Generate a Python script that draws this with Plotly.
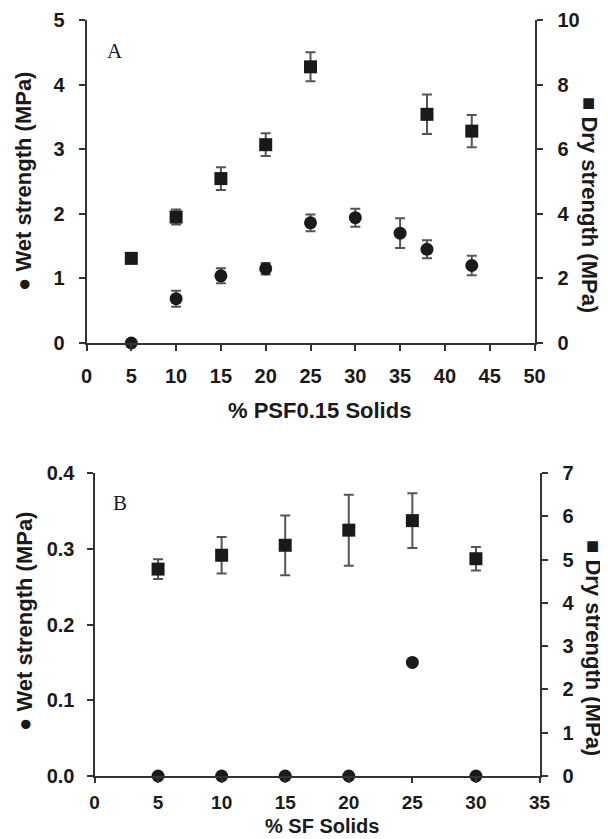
import plotly.graph_objects as go

# ---- Panel A data ----
a_x_wet = [5, 10, 15, 20, 25, 30, 35, 38, 43]
a_wet = [0.0, 0.686, 1.04, 1.15, 1.86, 1.94, 1.70, 1.45, 1.20]
a_wet_err = [0.0, 0.124, 0.116, 0.09, 0.13, 0.14, 0.23, 0.14, 0.15]
a_x_dry = [5, 10, 15, 20, 25, 38, 43]
a_dry = [2.62, 3.90, 5.09, 6.14, 8.55, 7.08, 6.56]
a_dry_err = [0.1, 0.23, 0.35, 0.35, 0.45, 0.61, 0.5]

# ---- Panel B data ----
b_x = [5, 10, 15, 20, 25, 30]
b_wet = [0.0, 0.0, 0.0, 0.0, 0.15, 0.0]
b_dry = [4.78, 5.10, 5.33, 5.68, 5.90, 5.02]
b_dry_err = [0.23, 0.42, 0.69, 0.82, 0.63, 0.27]

# page body has an 8px margin, so the figure starts at (8, 8)
OFF = 8
W, H = 608 - OFF, 839 - OFF
INK = "#1a1a1a"
ERR = "#555555"
FONT = "Liberation Sans, Arial, sans-serif"

def px(x):
    return (x - OFF) / W

def py(y):
    return 1 - (y - OFF) / H

fig = go.Figure()

def err(vals):
    return dict(type="data", array=vals, visible=True, color=ERR, thickness=2, width=5)

# Panel A
fig.add_trace(go.Scatter(x=a_x_dry, y=a_dry, mode="markers", xaxis="x", yaxis="y2",
                         marker=dict(symbol="square", size=13, color=INK),
                         error_y=err(a_dry_err), cliponaxis=False, showlegend=False))
fig.add_trace(go.Scatter(x=a_x_wet, y=a_wet, mode="markers", xaxis="x", yaxis="y",
                         marker=dict(symbol="circle", size=13, color=INK),
                         error_y=err(a_wet_err), cliponaxis=False, showlegend=False))
# Panel B
fig.add_trace(go.Scatter(x=b_x, y=b_dry, mode="markers", xaxis="x2", yaxis="y4",
                         marker=dict(symbol="square", size=13, color=INK),
                         error_y=err(b_dry_err), cliponaxis=False, showlegend=False))
fig.add_trace(go.Scatter(x=b_x, y=b_wet, mode="markers", xaxis="x2", yaxis="y3",
                         marker=dict(symbol="circle", size=13, color=INK),
                         cliponaxis=False, showlegend=False))

def axstyle(size=20, ticklen=6):
    return dict(showline=True, linecolor="#333333", linewidth=2, ticks="outside",
                ticklen=ticklen, tickwidth=2, tickcolor="#333333", showgrid=False,
                zeroline=False, fixedrange=True, automargin=False,
                tickfont=dict(family=FONT, size=size, color=INK, weight="bold"))

a_xdom = [px(86.5), px(534.5)]
a_ydom = [py(343), py(20)]
b_xdom = [px(94.5), px(539.5)]
b_ydom = [py(776), py(473)]

fig.update_layout(
    width=W, height=H,
    margin=dict(l=0, r=0, t=0, b=0, autoexpand=False),
    paper_bgcolor="white", plot_bgcolor="white",
    xaxis=dict(domain=a_xdom, anchor="y", range=[0, 50], tickmode="linear", tick0=0, dtick=5,
               ticklabelstandoff=8, **axstyle()),
    yaxis=dict(domain=a_ydom, anchor="x", range=[0, 5], tickmode="linear", tick0=0, dtick=1,
               ticklabelstandoff=10, **axstyle()),
    yaxis2=dict(overlaying="y", side="right", anchor="x", range=[0, 10], tickmode="linear",
                tick0=0, dtick=2, ticklabelstandoff=11, **axstyle()),
    xaxis2=dict(domain=b_xdom, anchor="y3", range=[0, 35], tickmode="linear", tick0=0, dtick=5,
                ticklabelstandoff=3, **axstyle(size=19, ticklen=5)),
    yaxis3=dict(domain=b_ydom, anchor="x2", range=[0, 0.4], tickmode="linear", tick0=0, dtick=0.1,
                tickformat=".1f", ticklabelstandoff=8, **axstyle()),
    yaxis4=dict(overlaying="y3", side="right", anchor="x2", range=[0, 7], tickmode="linear",
                tick0=0, dtick=1, ticklabelstandoff=11, **axstyle()),
)

titlefont = dict(family=FONT, size=22, color=INK, weight="bold")
titlefont_b = dict(family=FONT, size=20, color=INK, weight="bold")
serif = dict(family="Liberation Serif, Times New Roman, serif", size=21, color=INK)

anns = [
    dict(text="● Wet strength (MPa)", x=px(24), y=py(182), textangle=-90, font=titlefont),
    dict(text="■ Dry strength (MPa)", x=px(589), y=py(205), textangle=90, font=titlefont),
    dict(text="% PSF0.15 Solids", x=px(319.5), y=py(410), font=titlefont),
    dict(text="A", x=px(115), y=py(51), font=serif),
    dict(text="● Wet strength (MPa)", x=px(24), y=py(622), textangle=-90, font=titlefont),
    dict(text="■ Dry strength (MPa)", x=px(594), y=py(648), textangle=90, font=titlefont),
    dict(text="% SF Solids", x=px(321.5), y=py(826), font=titlefont_b),
    dict(text="B", x=px(120), y=py(503), font=serif),
]
for a in anns:
    fig.add_annotation(xref="paper", yref="paper", showarrow=False,
                       xanchor="center", yanchor="middle", **a)

fig.write_html("out.html")
